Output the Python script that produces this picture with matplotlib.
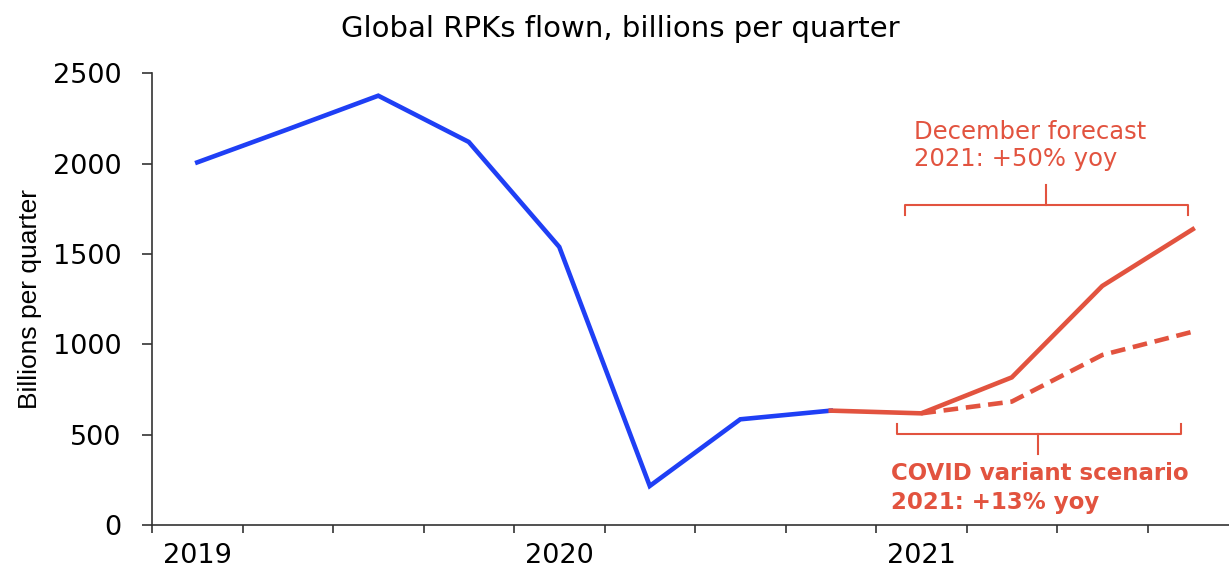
import matplotlib
matplotlib.use("Agg")
import matplotlib.pyplot as plt
from matplotlib.ticker import FixedLocator

# quarterly values, billions of RPKs (2019 Q1 .. 2021 Q4)
quarters = list(range(12))
actual = [2007, 2190, 2376, 2120, 1539, 216, 585, 633]
forecast = [633, 618, 817, 1323, 1637]        # December forecast, from 2020 Q4
variant = [618, 683, 941, 1070]               # COVID variant scenario, from 2021 Q1
year_labels = ["2019", "2020", "2021"]
year_pos = [0, 4, 8]
yticks = [0, 500, 1000, 1500, 2000, 2500]

BLUE = "#1f3ff5"
RED = "#e2533f"

plt.rcParams["font.family"] = ["DejaVu Sans"]

fig = plt.figure(figsize=(12.29, 5.69), dpi=100)
ax = fig.add_axes([152 / 1229, 1 - 525 / 569, 1 - 152 / 1229, (525 - 73.3) / 569])

ax.plot(quarters[:8], actual, color=BLUE, lw=3.3, solid_joinstyle="miter", zorder=3)
ax.plot(quarters[7:], forecast, color=RED, lw=3.3, solid_joinstyle="miter", zorder=3)
ax.plot(quarters[8:], variant, color=RED, lw=3.3, ls=(0, (3.2, 1.7)), zorder=2)

ax.set_xlim(-0.5, 11.4)
ax.set_ylim(0, 2500)

for s in ["top", "right"]:
    ax.spines[s].set_visible(False)
for s in ["left", "bottom"]:
    ax.spines[s].set_color("#333333")
    ax.spines[s].set_linewidth(1.2)

ax.set_yticks(yticks)
ax.tick_params(axis="y", length=7, width=1.2, color="#333333", pad=15, labelsize=19.5)
ax.set_xticks(year_pos)
ax.set_xticklabels(year_labels)
ax.xaxis.set_minor_locator(FixedLocator([q - 0.5 for q in quarters]))
ax.tick_params(axis="x", which="major", length=0, pad=13, labelsize=19.5)
ax.tick_params(axis="x", which="minor", length=6, width=1.2, color="#333333")

ax.set_ylabel("Billions per quarter", fontsize=19, labelpad=8,
              family=["Liberation Sans Narrow", "Liberation Sans", "DejaVu Sans"])
fig.text(620 / 1229, 1 - 29 / 569, "Global RPKs flown, billions per quarter",
         fontsize=21, ha="center", va="center")

# bracket over the December forecast
bk = dict(color=RED, lw=1.5, clip_on=False)
ax.plot([7.82, 7.82, 10.95, 10.95], [1716, 1771, 1771, 1716], **bk)
ax.plot([9.38, 9.38], [1771, 1882], **bk)
ax.text(7.92, 2176, "December forecast", color=RED, fontsize=17.5, va="center", ha="left")
ax.text(7.92, 2025, "2021: +50% yoy", color=RED, fontsize=17.5, va="center", ha="left")

# bracket under the COVID variant scenario
ax.plot([7.73, 7.73, 10.87, 10.87], [559, 504, 504, 559], **bk)
ax.plot([9.29, 9.29], [504, 393], **bk)
ax.text(7.67, 285, "COVID variant scenario", color=RED, fontsize=16.5, fontweight="bold",
        va="center", ha="left")
ax.text(7.67, 122, "2021: +13% yoy", color=RED, fontsize=16.5, fontweight="bold",
        va="center", ha="left")

fig.savefig("out.png", dpi=100)
